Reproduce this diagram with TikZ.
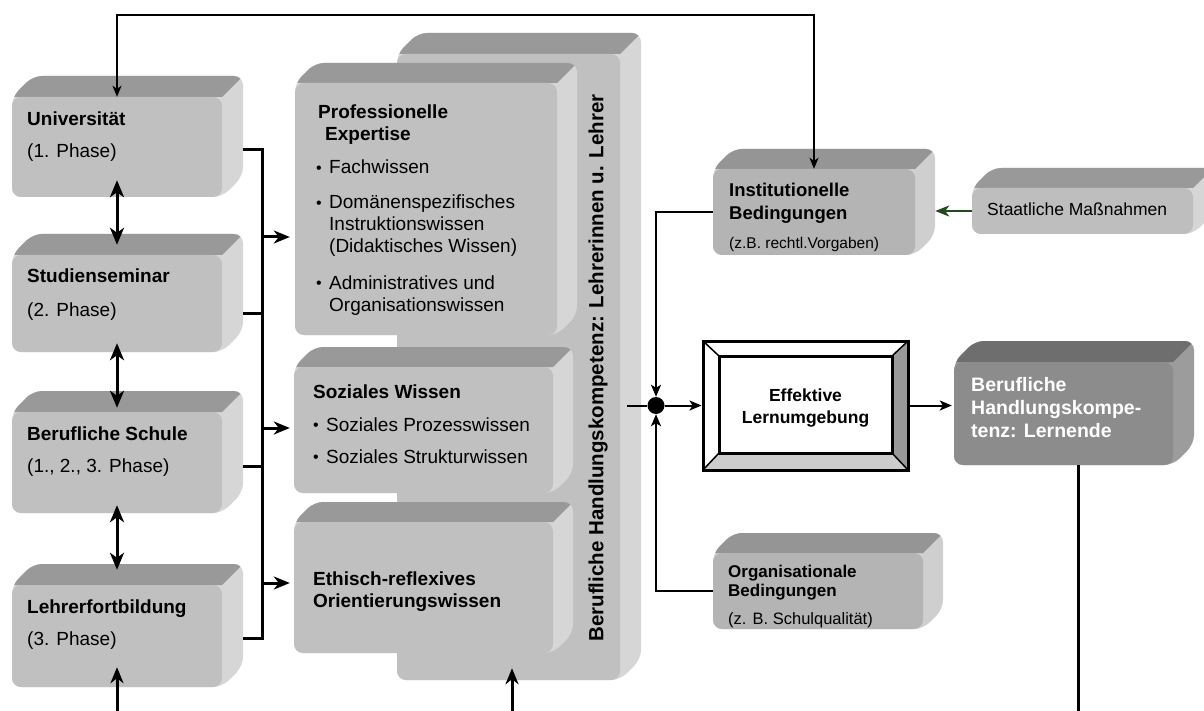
\documentclass[tikz,border=0pt]{standalone}
\usepackage{fontspec}
\setmainfont{Liberation Sans}
\usetikzlibrary{arrows.meta,calc}
\definecolor{topc}{HTML}{999999}
\definecolor{frontc}{HTML}{C0C0C0}
\definecolor{sidec}{HTML}{D6D6D6}
\definecolor{itop}{HTML}{959595}
\definecolor{ifront}{HTML}{B4B4B4}
\definecolor{iside}{HTML}{CFCFCF}
\definecolor{stfront}{HTML}{BEBEBE}
\definecolor{ltop}{HTML}{6E6E6E}
\definecolor{lfront}{HTML}{8C8C8C}
\definecolor{lside}{HTML}{9C9C9C}
\definecolor{bandgray}{HTML}{999999}
\definecolor{bandlight}{HTML}{CCCCCC}
\definecolor{darkgreen}{HTML}{1E4A1E}
% #1 name, #2 x1, #3 y1, #4 x2, #5 y2, #6 depth, #7 top, #8 front, #9 side
\newcommand\cube[9]{%
  \begin{scope}
    \path[clip, rounded corners=9pt] (#2,#5) -- (#2,#3) -- ({#2+#6},{#3-#6}) -- ({#4+#6},{#3-#6}) -- ({#4+#6},{#5-#6}) -- (#4,#5) -- cycle;
    \fill[#9] ({#2-2},{#5+2}) rectangle ({#4+#6+2},{#3-#6-2});
    \fill[#7] ({#2-2},#3) -- ({#2+#6-2},{#3-#6-2}) -- ({#4+#6+2},{#3-#6-2}) -- (#4,#3) -- cycle;
  \end{scope}
  \node[fill=#8, rounded corners=9pt, inner sep=0pt, minimum width={(#4-#2)*1pt}, minimum height={(#5-#3)*1pt}] (#1) at ({(#2+#4)/2},{(#3+#5)/2}) {};%
}
\newcommand\bul{\makebox[13pt][l]{\fontsize{16}{16}\selectfont\raisebox{0.5pt}{•}}}
\begin{document}
\begin{tikzpicture}[x=1pt,y=-1pt,
  lbl/.style={anchor=base west, inner sep=0pt},
  ttl/.style={lbl, font=\fontsize{19}{22}\selectfont\bfseries},
  txt/.style={lbl, font=\fontsize{19}{22}\selectfont},
  conn/.style={line width=3pt},
  bigarr/.style={line width=3pt, -{Stealth[length=16pt,width=13pt,inset=5pt]}},
  dblarr/.style={line width=3pt, {Stealth[length=17pt,width=14pt,inset=5pt]}-{Stealth[length=17pt,width=14pt,inset=5pt]}},
  loopline/.style={line width=1.5pt, {Stealth[length=11pt,width=9pt,inset=3pt]}-{Stealth[length=11pt,width=9pt,inset=3pt]}},
  midline/.style={line width=2pt},
  midarr/.style={line width=2pt, -{Stealth[length=12pt,width=10pt,inset=3pt]}},
  greenarr/.style={line width=2.2pt, darkgreen, -{Stealth[length=14pt,width=11pt,inset=4pt]}}
]
\useasboundingbox (0,0) rectangle (1204,711);
\clip (0,0) rectangle (1204,711);

% ---------- middle column ----------
\cube{back}{397}{54}{620}{680}{21}{topc}{frontc}{sidec}
\node[rotate=90, inner sep=0pt, font=\fontsize{20.5}{24}\selectfont\bfseries] (backtxt) at (598,368) {Berufliche Handlungskompetenz: Lehrerinnen u. Lehrer};

\cube{prof}{295}{83}{557}{335}{20}{topc}{frontc}{sidec}
\node[ttl] (p1) at (318,119) {Professionelle};
\node[ttl] (p2) at (325,141) {Expertise};
\node[txt] (p3) at (316,174) {\bul Fachwissen};
\node[txt] (p4) at (316,209) {\bul Domänenspezifisches};
\node[txt] (p5) at (329,231) {Instruktionswissen};
\node[txt] (p6) at (329,253) {(Didaktisches Wissen)};
\node[txt] (p7) at (316,289) {\bul Administratives und};
\node[txt] (p8) at (329,311) {Organisationswissen};

\cube{soz}{294}{367}{553}{493}{20}{topc}{frontc}{sidec}
\node[ttl] (s1) at (313,398) {Soziales Wissen};
\node[txt] (s2) at (313,431) {\bul Soziales Prozesswissen};
\node[txt] (s3) at (313,463) {\bul Soziales Strukturwissen};

\cube{eth}{294}{522}{553}{653}{20}{topc}{frontc}{sidec}
\node[ttl] (e1) at (313,585) {Ethisch-reflexives};
\node[ttl] (e2) at (313,607) {Orientierungswissen};

% ---------- left column ----------
\cube{uni}{12}{97}{222}{197}{21}{topc}{frontc}{sidec}
\node[ttl] (u1) at (27,126) {Universität};
\node[txt] (u2) at (27,158) {(1. Phase)};
\cube{stu}{12}{255}{222}{352}{21}{topc}{frontc}{sidec}
\node[ttl] (st1) at (27,283) {Studienseminar};
\node[txt] (st2) at (27,316) {(2. Phase)};
\cube{bs}{12}{412}{222}{513}{21}{topc}{frontc}{sidec}
\node[ttl] (b1) at (27,440) {Berufliche Schule};
\node[txt] (b2) at (27,472) {(1., 2., 3. Phase)};
\cube{lf}{12}{585}{222}{687}{21}{topc}{frontc}{sidec}
\node[ttl] (l1) at (27,613) {Lehrerfortbildung};
\node[txt] (l2) at (27,645) {(3. Phase)};

% ---------- right side ----------
\cube{inst}{713}{169}{915}{255}{20}{itop}{ifront}{iside}
\node[lbl, font=\fontsize{18.5}{21}\selectfont\bfseries] (i1) at (729,197) {Institutionelle};
\node[lbl, font=\fontsize{18.5}{21}\selectfont\bfseries] (i2) at (729,220) {Bedingungen};
\node[lbl, font=\fontsize{15.5}{18}\selectfont] (i3) at (729,249) {(z.B. rechtl.Vorgaben)};

\cube{staat}{972}{188}{1193}{234}{20}{topc}{stfront}{sidec}
\node[lbl, font=\fontsize{17.5}{20}\selectfont] (sm) at (987,216) {Staatliche Maßnahmen};

\cube{org}{713}{553}{923}{629}{20}{itop}{ifront}{iside}
\node[lbl, font=\fontsize{17}{20}\selectfont\bfseries] (o1) at (728,577) {Organisationale};
\node[lbl, font=\fontsize{17}{20}\selectfont\bfseries] (o2) at (728,596) {Bedingungen};
\node[lbl, font=\fontsize{16.5}{19}\selectfont] (o3) at (728,624) {(z. B. Schulqualität)};

\cube{lern}{954}{362}{1173}{465}{21}{ltop}{lfront}{lside}
\node[lbl, white, font=\fontsize{19.5}{22}\selectfont\bfseries] (ln1) at (971,391) {Berufliche};
\node[lbl, white, font=\fontsize{19.5}{22}\selectfont\bfseries] (ln2) at (971,414) {Handlungskompe-};
\node[lbl, white, font=\fontsize{19.5}{22}\selectfont\bfseries] (ln3) at (971,437) {tenz: Lernende};

% Effektive Lernumgebung (bevelled frame)
\fill[white] (703,341) rectangle (908,470);
\fill[bandgray] (892,356) -- (908,341) -- (908,470) -- (892,453) -- cycle;
\fill[bandlight] (719,453) -- (892,453) -- (908,470) -- (703,470) -- cycle;
\draw[line width=1.5pt] (703,341) -- (719,356) (908,341) -- (892,356) (703,470) -- (719,453) (908,470) -- (892,453);
\draw[line width=3pt] (719,356) rectangle (892,453);
\node[draw, line width=3pt, inner sep=0pt, minimum width=205pt, minimum height=129pt] (eff) at (805.5,405.5) {};
\node[anchor=base, inner sep=0pt, font=\fontsize{17.5}{20}\selectfont\bfseries] (ef1) at (805.5,401) {Effektive};
\node[anchor=base, inner sep=0pt, font=\fontsize{17.5}{20}\selectfont\bfseries] (ef2) at (805.5,423) {Lernumgebung};

% junction dot
\node[circle, fill=black, inner sep=0pt, minimum size=17pt] (dot) at (656,405.5) {};

% ---------- connectors ----------
\coordinate (bu1) at (262,150);
\coordinate (bu2) at (262,313);
\coordinate (bu3) at (262,466);
\coordinate (bu4) at (262,638);
\draw[conn] ($(uni.east |- bu1)+(21,0)$) -- (bu1);
\draw[conn] ($(stu.east |- bu2)+(21,0)$) -- (bu2);
\draw[conn] ($(bs.east |- bu3)+(21,0)$) -- (bu3);
\draw[conn] ($(lf.east |- bu4)+(21,0)$) -- (bu4);
\draw[conn] ($(bu1)+(0,-1.5)$) -- ($(bu4)+(0,1.5)$);
\coordinate (a1) at (262,237);
\coordinate (a2) at (262,428);
\coordinate (a3) at (262,583);
\draw[bigarr] (a1) -- ($(prof.west |- a1)+(-5,0)$);
\draw[bigarr] (a2) -- ($(soz.west |- a2)+(-4,0)$);
\draw[bigarr] (a3) -- ($(eth.west |- a3)+(-4,0)$);

\draw[dblarr] ($(uni.south)+(0,-17)$) -- ($(stu.north)+(0,-10)$);
\draw[dblarr] ($(stu.south)+(0,-9)$) -- ($(bs.north)+(0,-4)$);
\draw[dblarr] ($(bs.south)+(0,-8)$) -- ($(lf.north)+(0,-15)$);

\coordinate (lfin) at (117,711);
\draw[bigarr] (lfin) -- ($(lf.south)+(0,-20)$);
\coordinate (backin) at (512,711);
\draw[bigarr] (backin) -- ($(backin |- back.south)+(0,-12)$);

\draw[loopline] (uni.north) |- ($(inst.north)+(0,-154)$) -- (inst.north);

\draw[midarr] (inst.west) -| (dot.north);
\draw[midarr] (org.west) -| (dot.south);
\draw[midline] ($(back.east |- dot)+(7,0)$) -- (dot);
\draw[midarr] (dot) -- (eff.west);
\draw[midarr] (eff.east) -- ($(lern.west |- eff.east)+(-2,0)$);
\draw[greenarr] (staat.west) -- ($(inst.east |- staat.west)+(20,0)$);

\coordinate (lout) at (1078,711);
\draw[conn] ($(lern.south -| lout)$) -- (lout);
\end{tikzpicture}
\end{document}
